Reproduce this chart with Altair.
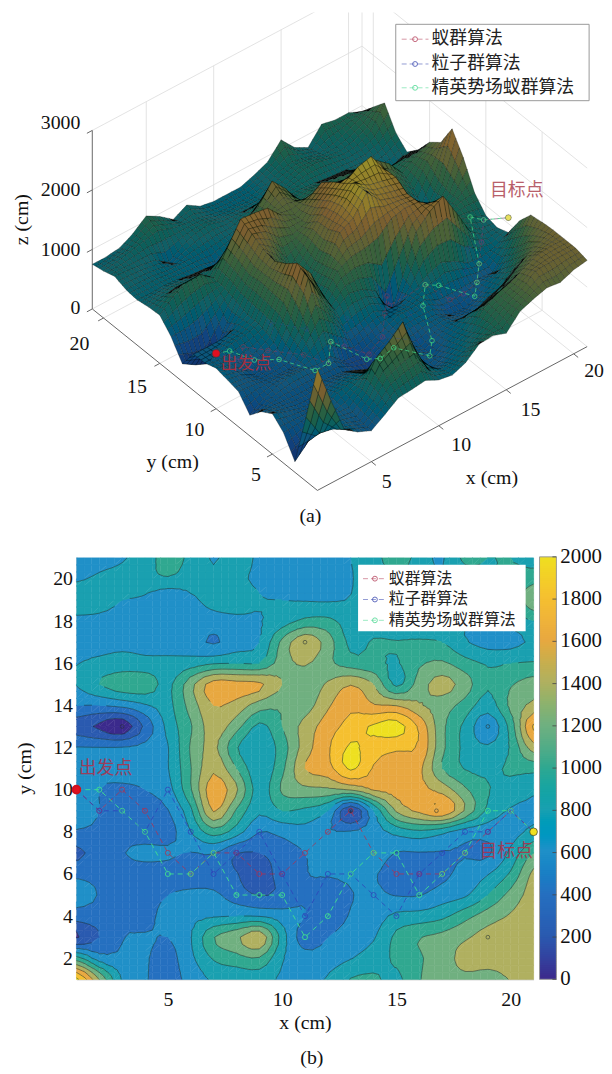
import altair as alt
import pandas as pd

alt.data_transformers.disable_max_rows()

# Heights, one row per y (21 down to 1), x = 1..21.
z_y21 = [750,750,780,900,1080,950,780,900,760,720,720,720,800,900,1150,900,780,1050,1000,1000,900]
z_y20 = [790,820,870,930,980,900,850,830,770,730,720,730,790,880,930,880,830,870,950,1050,1130]
z_y19 = [850,830,800,760,600,760,850,880,810,800,790,780,810,880,950,950,900,850,880,1000,1350]
z_y18 = [780,780,770,730,720,720,730,760,790,900,1050,1050,900,900,880,850,830,810,790,850,1000]
z_y17 = [760,750,760,740,700,680,580,700,800,1250,1550,1300,950,1020,1010,1030,1000,820,730,740,830]
z_y16 = [795,840,880,860,860,900,980,1000,1000,1300,1420,1250,1100,1050,980,1170,1230,1080,980,1000,1020]
z_y15 = [810,1000,1120,1130,950,1330,1700,1680,1640,1400,1280,1430,1590,1400,950,1300,1480,1300,1020,1180,1300]
z_y14 = [600,600,660,780,930,1280,1600,1520,1300,1230,1300,1570,1750,1620,1590,1420,1300,1120,900,1250,1450]
z_y13 = [300,160,60,450,860,1180,1500,1280,950,1200,1480,1700,1880,2030,2090,1760,1250,950,650,1080,1830]
z_y12 = [610,605,610,660,790,1220,1450,1020,830,1100,1500,1770,2030,1880,1830,1770,1250,950,830,1020,1500]
z_y11 = [620,630,700,720,790,1190,1560,1200,850,1150,1600,1720,2030,1780,1700,1650,1200,990,950,1030,1060]
z_y10 = [680,600,550,600,720,1180,1720,1430,900,1230,1340,1360,1420,1620,1680,1660,1520,1230,1010,920,830]
z_y9 = [640,600,480,520,590,950,1620,1170,840,1000,950,800,190,800,1430,1650,1790,1380,950,780,780]
z_y8 = [590,570,540,520,520,790,1100,900,605,660,730,620,620,700,860,950,850,700,680,720,850]
z_y7 = [350,500,590,640,630,590,610,410,400,500,600,700,690,720,590,590,590,590,570,850,1200]
z_y6 = [560,550,530,520,520,520,500,410,310,480,590,620,640,620,500,480,550,680,790,1030,1450]
z_y5 = [680,590,520,500,600,640,640,500,390,450,580,480,590,640,590,590,700,770,1000,1270,1480]
z_y4 = [510,530,560,520,700,750,780,800,790,690,600,480,620,700,850,880,950,1130,1300,1420,1500]
z_y3 = [180,400,590,620,600,790,1190,1350,1560,900,500,600,700,780,1050,1190,1260,1370,1480,1500,1500]
z_y2 = [1080,690,640,620,530,750,1020,1120,1180,820,680,700,790,900,1040,1180,1290,1480,1490,1500,1500]
z_y1 = [2050,1390,780,620,520,670,830,850,880,770,730,820,1010,1030,950,1190,1280,1350,1320,1410,1450]
Z_ROWS = [z_y1,z_y2,z_y3,z_y4,z_y5,z_y6,z_y7,z_y8,z_y9,z_y10,z_y11,z_y12,z_y13,z_y14,z_y15,z_y16,z_y17,z_y18,z_y19,z_y20,z_y21]

red_x = [1,2,3,4,5,6,7,8,9,10,11,12,13,14,15,16,17,18,19,20,21]
red_y = [10,9,10,9,7,6,7,7,6,6,7,8,9,7,6,6,6,7,8,9,8]
blue_x = [1,2,3,4,5,6,7,8,9,10,11,12,13,14,15,16,17,18,19,20,21]
blue_y = [10,9,9,8,10,8,6,7,8,6,4,6,6,5,4,6,7,8,8,9,8]
green_x = [1,2,3,4,5,6,7,8,9,10,11,12,13,14,15,16,17,18,19,20,21]
green_y = [10,10,9,8,6,6,7,5,5,5,3,4,6,7,7,5,6,7,9,9,8]
FLY = 250  # height of the routes above the terrain in panel (a)

names = ["蚁群算法", "粒子群算法", "精英势场蚁群算法"]
line_cols = ["#b5405a", "#3a48b0", "#48d890"]
LEVELS = [0,200,400,600,800,1000,1200,1400,1600,1800,2000]
PARULA = ["#3b2a8c","#2a5ab0","#2570c0","#2090c8","#1aa0b0","#30a890","#70b080","#b0b060","#e8a840","#f5c030","#eee020"]
SURF_DOMAIN = [-1] + LEVELS
SURF = ["#040605","#161445","#10306a","#114480","#11557c","#115f66","#185f4c","#30603e","#5c6236","#7c5e30","#8c742c","#96882a"]
SERIF = "Liberation Serif"
CJK = "Noto Sans CJK SC"

def Z(i, j):
    return Z_ROWS[j][i]

# ---------- projection of panel (a), screen pixels ----------
def project(x, y, z):
    return 318 + (x-1)*13.6 - (y-1)*11.35, 490 - (x-1)*7.25 - (y-1)*9.15 - z*0.06

A_LEFT, A_TOP = 75, 8      # page pixel at the left/top edge of panel (a)'s view
WA, HA = 525, 524
sA_x = alt.Scale(domain=[A_LEFT, A_LEFT+WA], nice=False, zero=False)
sA_y = alt.Scale(domain=[A_TOP+HA, A_TOP], nice=False, zero=False)
sxA = alt.X("sx:Q", scale=sA_x, axis=None)
syA = alt.Y("sy:Q", scale=sA_y, axis=None)
sx2 = alt.X2("sx2:Q"); sy2 = alt.Y2("sy2:Q")

# Mesh of the surface: each read cell is drawn as a few facets, far facets first.
N = 3
rows = []; quads = []
for j in range(20):
    for i in range(20):
        for a in range(N):
            for b in range(N):
                def h(u, v):
                    return (Z(i,j)*(1-u)*(1-v)+Z(i+1,j)*u*(1-v)+Z(i,j+1)*(1-u)*v+Z(i+1,j+1)*u*v)
                corners = [(a/N,b/N),((a+1)/N,b/N),((a+1)/N,(b+1)/N),(a/N,(b+1)/N)]
                pts = [(1+i+u, 1+j+v, h(u,v)) for u,v in corners]
                depth = sum(p[0]*7.25+p[1]*9.15 for p in pts)
                quads.append((depth, pts))
quads.sort(key=lambda q: -q[0])
for qi, (_, pts) in enumerate(quads):
    zc = round(sum(p[2] for p in pts)/4)
    scr = [project(*p) for p in pts]
    area = 0.5*sum(scr[k][0]*scr[(k+1)%4][1]-scr[(k+1)%4][0]*scr[k][1] for k in range(4))
    if abs(area) < 9:   # foreshortened facets read as black in the dense mesh
        zc = -1
    for k, p in enumerate(scr + [scr[0]]):
        rows.append({"q": qi, "o": k, "sx": round(p[0],1), "sy": round(p[1],1), "zc": zc})
surf_df = pd.DataFrame(rows)
surface = alt.Chart(surf_df).mark_line(stroke="#050a08", strokeWidth=0.35, strokeOpacity=0.8, opacity=1).encode(
    x=sxA, y=syA, detail="q:N", order="o:Q",
    fill=alt.Fill("zc:Q", scale=alt.Scale(domain=SURF_DOMAIN, range=SURF), legend=None))

# Box of panel (a)
gr = []; ax = []
def seg(lst, a, b):
    p, q = project(*a), project(*b)
    lst.append({"sx": p[0], "sy": p[1], "sx2": q[0], "sy2": q[1]})
for v in [5,10,15,20]:
    seg(gr,(v,1,0),(v,21,0)); seg(gr,(1,v,0),(21,v,0))
    seg(gr,(v,21,0),(v,21,3000)); seg(gr,(21,v,0),(21,v,3000))
    seg(ax,(v,1,0),(v,0.6,0)); seg(ax,(1,v,0),(0.6,v,0))
for zv in [0,1000,2000,3000]:
    seg(gr,(1,21,zv),(21,21,zv)); seg(gr,(21,21,zv),(21,1,zv))
    seg(ax,(1,21,zv),(0.6,21,zv))
seg(gr,(21,21,0),(21,21,3000))
seg(ax,(1,1,0),(21,1,0)); seg(ax,(1,1,0),(1,21,0)); seg(ax,(1,21,0),(1,21,3000))
grid_a = alt.Chart(pd.DataFrame(gr)).mark_rule(color="#dcdcdc", strokeWidth=0.8, clip=True).encode(x=sxA, y=syA, x2=sx2, y2=sy2)
axes_a = alt.Chart(pd.DataFrame(ax)).mark_rule(color="#666666", strokeWidth=1).encode(x=sxA, y=syA, x2=sx2, y2=sy2)

def route_a(xs, ys, col, op):
    d = []
    for k,(x,y) in enumerate(zip(xs,ys)):
        sx, sy = project(x, y, Z(x-1,y-1)+FLY)
        d.append({"k":k,"sx":sx,"sy":sy})
    df = pd.DataFrame(d)
    return [alt.Chart(df).mark_line(color=col, strokeDash=[4,3], strokeWidth=1, opacity=op).encode(x=sxA,y=syA,order="k:Q"),
            alt.Chart(df).mark_point(shape="circle", color=col, size=22, strokeWidth=1, opacity=op).encode(x=sxA,y=syA)]

routes_a = route_a(red_x,red_y,"#b03050",0.4) + route_a(blue_x,blue_y,"#3048b0",0.25) + route_a(green_x,green_y,"#40d080",0.8)

def marker_a(x, y, col, size):
    sx, sy = project(x, y, Z(x-1,y-1)+FLY)
    return alt.Chart(pd.DataFrame([{"sx":sx,"sy":sy}])).mark_point(shape="circle", filled=True, fill=col, stroke="#333333", strokeWidth=0.4, opacity=1, size=size).encode(x=sxA,y=syA)

texts_a = pd.DataFrame([
    {"sx":59,"sy":120,"t":"3000"},{"sx":59,"sy":187,"t":"2000"},{"sx":59,"sy":248,"t":"1000"},{"sx":74,"sy":306,"t":"0"},
    {"sx":78,"sy":342,"t":"20"},{"sx":136,"sy":386,"t":"15"},{"sx":194,"sy":429,"t":"10"},{"sx":256,"sy":475,"t":"5"},
    {"sx":388,"sy":482,"t":"5"},{"sx":463,"sy":444,"t":"10"},{"sx":533,"sy":409,"t":"15"},{"sx":597,"sy":370,"t":"20"},
    {"sx":494,"sy":478,"t":"x (cm)"},{"sx":172,"sy":461,"t":"y (cm)"},{"sx":311,"sy":516,"t":"(a)"},
])
txt_a = alt.Chart(texts_a).mark_text(font=SERIF, fontSize=20, color="#111111", baseline="middle").encode(x=sxA,y=syA,text="t:N")
zlab = alt.Chart(pd.DataFrame([{"sx":20,"sy":217,"t":"z (cm)"}])).mark_text(font=SERIF,fontSize=20,angle=270,color="#111111",baseline="middle").encode(x=sxA,y=syA,text="t:N")
lab_a = alt.Chart(pd.DataFrame([{"sx":519,"sy":188,"t":"目标点","c":"#b8606a","f":18},{"sx":246,"sy":363,"t":"出发点","c":"#a03040","f":17}])).mark_text(font=CJK,baseline="middle",fontWeight="normal").encode(
    x=sxA,y=syA,text="t:N",color=alt.Color("c:N",scale=None),size=alt.Size("f:Q",scale=None))

def legend_layers(X0, Y0, X1, Y1, row_ys, lx0, lx1, tx, fs, syx, syy, stroke):
    L = []
    box = pd.DataFrame([{"a":X0,"b":X1,"c":Y0,"d":Y1}])
    L.append(alt.Chart(box).mark_rect(fill="white", stroke=stroke, strokeWidth=1).encode(
        x=alt.X("a:Q",scale=syx,axis=None), x2="b:Q", y=alt.Y("c:Q",scale=syy,axis=None), y2="d:Q"))
    for n,c,yy in zip(names,line_cols,row_ys):
        d = pd.DataFrame([{"a":lx0,"b":lx1,"c":yy,"m":(lx0+lx1)/2,"t":n,"tx":tx}])
        L.append(alt.Chart(d).mark_rule(color=c,strokeDash=[5,3],strokeWidth=1,opacity=0.55).encode(
            x=alt.X("a:Q",scale=syx,axis=None),x2="b:Q",y=alt.Y("c:Q",scale=syy,axis=None)))
        L.append(alt.Chart(d).mark_point(shape="circle",color=c,size=24,opacity=0.8,strokeWidth=1).encode(
            x=alt.X("m:Q",scale=syx,axis=None),y=alt.Y("c:Q",scale=syy,axis=None)))
        L.append(alt.Chart(d).mark_text(font=CJK,fontSize=fs,align="left",baseline="middle",color="#222222").encode(
            x=alt.X("tx:Q",scale=syx,axis=None),y=alt.Y("c:Q",scale=syy,axis=None),text="t:N"))
    return L

leg_a = legend_layers(397,20,592,97,[35,60,84],403,430,433,18,sA_x,sA_y,"#999999")

panel_a = alt.layer(grid_a, axes_a, surface, *routes_a, marker_a(1,10,"#e01020",60), marker_a(21,8,"#e8e060",35),
                    txt_a, zlab, lab_a, *leg_a).properties(width=WA, height=HA)

# ---------- panel (b): contour bands of the same grid ----------
def clip(poly, lev, keep_above):
    out = []
    for k in range(len(poly)):
        p, q = poly[k], poly[(k+1) % len(poly)]
        ip = p[2] >= lev if keep_above else p[2] <= lev
        iq = q[2] >= lev if keep_above else q[2] <= lev
        if ip:
            out.append(p)
        if ip != iq:
            t = (lev-p[2])/(q[2]-p[2])
            out.append((p[0]+t*(q[0]-p[0]), p[1]+t*(q[1]-p[1]), lev))
    return out

# Contouring needs positions between grid nodes: the read grid is refined only to
# trace smooth band outlines, as a contour routine does.
R = 3
def catmull(a, b, c, d, t):
    return 0.5*(2*b + (c-a)*t + (2*a-5*b+4*c-d)*t*t + (3*b-a-3*c+d)*t*t*t)
def fine(u, v):
    i = min(int(u), 19); j = min(int(v), 19)
    tu, tv = u-i, v-j
    col = []
    for jj in range(j-1, j+3):
        jc = max(0, min(20, jj))
        r = [Z(max(0, min(20, ii)), jc) for ii in range(i-1, i+3)]
        col.append(catmull(r[0], r[1], r[2], r[3], tu))
    return catmull(col[0], col[1], col[2], col[3], tv)
F = [[fine(i/R, j/R) for i in range(20*R+1)] for j in range(20*R+1)]

def band_of(v):
    return 2000 if v >= 2000 else max(0, int(v//200)*200)

poly_rows = []; seg_rows = []; pid = 0
for j in range(20*R):
    for i in range(20*R):
        c = [(1+i/R,1+j/R,F[j][i]),(1+(i+1)/R,1+j/R,F[j][i+1]),(1+(i+1)/R,1+(j+1)/R,F[j+1][i+1]),(1+i/R,1+(j+1)/R,F[j+1][i])]
        bs = {band_of(p[2]) for p in c}
        if len(bs) == 1:
            lev = bs.pop()
            for o,p in enumerate(c):
                poly_rows.append({"p":pid,"o":o,"x":round(p[0],3),"y":round(p[1],3),"lev":lev})
            pid += 1
            continue
        for tri in ([c[0],c[1],c[2]],[c[0],c[2],c[3]]):
            for lev in LEVELS:
                poly = tri
                if lev > 0:
                    poly = clip(poly, lev, True)
                if poly and lev < 2000:
                    poly = clip(poly, lev+200, False)
                if len(poly) >= 3:
                    for o,p in enumerate(poly):
                        poly_rows.append({"p":pid,"o":o,"x":round(p[0],3),"y":round(p[1],3),"lev":lev})
                    pid += 1
                if lev > 0:
                    pts = []
                    for m in range(3):
                        p,q = tri[m],tri[(m+1)%3]
                        if (p[2]-lev)*(q[2]-lev) < 0:
                            t=(lev-p[2])/(q[2]-p[2])
                            pts.append((p[0]+t*(q[0]-p[0]),p[1]+t*(q[1]-p[1])))
                    if len(pts)==2:
                        seg_rows.append({"x":round(pts[0][0],3),"y":round(pts[0][1],3),"x2":round(pts[1][0],3),"y2":round(pts[1][1],3)})

WB, HB = 461, 426
sB_x = alt.Scale(domain=[1,21],nice=False,zero=False)
sB_y = alt.Scale(domain=[1,21.05],nice=False,zero=False)
fs = 20
axis_bx = alt.Axis(values=[5,10,15,20],grid=False,ticks=False,labelFont=SERIF,labelFontSize=fs,labelColor="#111111",labelPadding=10,domainColor="#bbbbbb",title="x (cm)",titleFont=SERIF,titleFontSize=fs,titleFontWeight="normal",titleColor="#111111",titlePadding=4)
axis_by = alt.Axis(values=list(range(2,21,2)),grid=False,ticks=False,labelFont=SERIF,labelFontSize=fs,labelColor="#111111",labelPadding=4,domainColor="#bbbbbb",title="y (cm)",titleFont=SERIF,titleFontSize=fs,titleFontWeight="normal",titleColor="#111111",titlePadding=18)
xB = alt.X("x:Q",scale=sB_x,axis=axis_bx)
yB = alt.Y("y:Q",scale=sB_y,axis=axis_by)
colscale = alt.Scale(domain=LEVELS, range=PARULA)
bands = alt.Chart(pd.DataFrame(poly_rows)).mark_line(strokeWidth=0.7, opacity=1).encode(
    x=xB, y=yB, detail="p:N", order="o:Q",
    fill=alt.Fill("lev:Q", scale=colscale, legend=None),
    stroke=alt.Stroke("lev:Q", scale=colscale, legend=None))
xB0 = alt.X("x:Q",scale=sB_x,axis=axis_bx); yB0 = alt.Y("y:Q",scale=sB_y,axis=axis_by)
lines = alt.Chart(pd.DataFrame(seg_rows)).mark_rule(color="#1c2a2a", strokeWidth=0.7, opacity=0.75).encode(
    x=xB0, y=yB0, x2="x2:Q", y2="y2:Q")

def route_b(xs, ys, col, op):
    df = pd.DataFrame({"x":xs,"y":ys,"k":range(len(xs))})
    return [alt.Chart(df).mark_line(color=col,strokeDash=[5,4],strokeWidth=1,opacity=op).encode(x=xB0,y=yB0,order="k:Q"),
            alt.Chart(df).mark_point(shape="circle",color=col,size=26,strokeWidth=1,opacity=op).encode(x=xB0,y=yB0)]
routes_b = route_b(red_x,red_y,"#b03050",0.75)+route_b(blue_x,blue_y,"#3040b8",0.75)+route_b(green_x,green_y,"#40e090",0.9)

rings = alt.Chart(pd.DataFrame({"x":[3,11,19,19,13,16.75],"y":[13,17,3,13,9,9]})).mark_point(shape="circle",color="#223030",size=14,strokeWidth=0.8).encode(x=xB0,y=yB0)
end2 = alt.Chart(pd.DataFrame({"x":[21],"y":[8]})).mark_point(shape="circle",filled=True,opacity=1,size=60,stroke="#222222",strokeWidth=0.6,fill="#f0e020").encode(x=xB0,y=yB0)
ends = alt.Chart(pd.DataFrame({"x":[1],"y":[10]})).mark_point(shape="circle",filled=True,opacity=1,size=60,fill="#e01020",stroke="#cc1020").encode(x=xB0,y=yB0)

lab_b = alt.Chart(pd.DataFrame({"x":[2.27,19.8],"y":[11,7.05],"t":["出发点","目标点"]})).mark_text(font=CJK,fontSize=18,color="#b03048",baseline="middle",opacity=0.85).encode(x=xB0,y=yB0,text="t:N")
cap_b = alt.Chart(pd.DataFrame({"x":[11.3],"y":[1],"t":["(b)"]})).mark_text(font=SERIF,fontSize=20,color="#111111",baseline="middle",dy=79).encode(x=xB0,y=yB0,text="t:N")

# legend and colour bar of panel (b), placed in the panel's own units
def px_x(p): return 1+(p-75)/(WB/20)
def px_y(p): return 1+(983-p)/(HB/20.05)
def v_y(v): return 1+v/2000*20.05
bar = pd.DataFrame({"v":[v+5 for v in range(0,2000,10)]})
bar["a"]=px_x(542); bar["b"]=px_x(559); bar["y0"]=[v_y(v-5) for v in bar["v"]]; bar["y1"]=[v_y(min(v+12, 2000)) for v in bar["v"]]
cbar = alt.Chart(bar).mark_rect(stroke=None).encode(
    x=alt.X("a:Q",scale=sB_x,axis=axis_bx),x2="b:Q",y=alt.Y("y0:Q",scale=sB_y,axis=axis_by),y2="y1:Q",
    fill=alt.Fill("v:Q",scale=colscale,legend=None), order=alt.Order("v:Q", sort="descending"))
frame = alt.Chart(pd.DataFrame([{"a":px_x(542),"b":px_x(559),"y0":v_y(0),"y1":v_y(2000)}])).mark_rect(fill=None,stroke="#999999",strokeWidth=1).encode(
    x=alt.X("a:Q",scale=sB_x,axis=axis_bx),x2="b:Q",y=alt.Y("y0:Q",scale=sB_y,axis=axis_by),y2="y1:Q")
ctick = pd.DataFrame({"v":LEVELS}); ctick["y"]=[v_y(v) for v in LEVELS]; ctick["a"]=px_x(555); ctick["b"]=px_x(559); ctick["tx"]=px_x(563); ctick["t"]=[str(v) for v in LEVELS]
cticks = alt.Chart(ctick).mark_rule(color="#444444",strokeWidth=0.8).encode(x=alt.X("a:Q",scale=sB_x,axis=axis_bx),x2="b:Q",y=alt.Y("y:Q",scale=sB_y,axis=axis_by))
ctext = alt.Chart(ctick).mark_text(font=SERIF,fontSize=21,color="#111111",align="left",baseline="middle").encode(x=alt.X("tx:Q",scale=sB_x,axis=axis_bx),y=alt.Y("y:Q",scale=sB_y,axis=axis_by),text="t:N")

def legend_b():
    L = []
    box = pd.DataFrame([{"a":px_x(359),"b":px_x(528),"c":px_y(565),"d":px_y(632)}])
    L.append(alt.Chart(box).mark_rect(fill="white").encode(x=alt.X("a:Q",scale=sB_x,axis=axis_bx),x2="b:Q",y=alt.Y("c:Q",scale=sB_y,axis=axis_by),y2="d:Q"))
    for n,c,py in zip(names,line_cols,[579,600,621]):
        d = pd.DataFrame([{"a":px_x(364),"b":px_x(388),"c":px_y(py),"m":px_x(376),"t":n,"tx":px_x(390)}])
        L.append(alt.Chart(d).mark_rule(color=c,strokeDash=[5,3],strokeWidth=1,opacity=0.55).encode(x=alt.X("a:Q",scale=sB_x,axis=axis_bx),x2="b:Q",y=alt.Y("c:Q",scale=sB_y,axis=axis_by)))
        L.append(alt.Chart(d).mark_point(shape="circle",color=c,size=24,opacity=0.8,strokeWidth=1).encode(x=alt.X("m:Q",scale=sB_x,axis=axis_bx),y=alt.Y("c:Q",scale=sB_y,axis=axis_by)))
        L.append(alt.Chart(d).mark_text(font=CJK,fontSize=16,align="left",baseline="middle",color="#222222").encode(x=alt.X("tx:Q",scale=sB_x,axis=axis_bx),y=alt.Y("c:Q",scale=sB_y,axis=axis_by),text="t:N"))
    return L

panel_b = alt.layer(bands, lines, *routes_b, rings, ends, end2, lab_b, cap_b, *legend_b(), cbar, frame, cticks, ctext).properties(width=WB, height=HB)

chart = alt.vconcat(panel_a, panel_b, spacing=14).resolve_scale(fill="independent", stroke="independent").properties(padding={"left":4,"right":0,"top":0,"bottom":0}).configure_view(stroke=None)
chart.save("out.html", embed_options={"renderer": "svg", "actions": False})
